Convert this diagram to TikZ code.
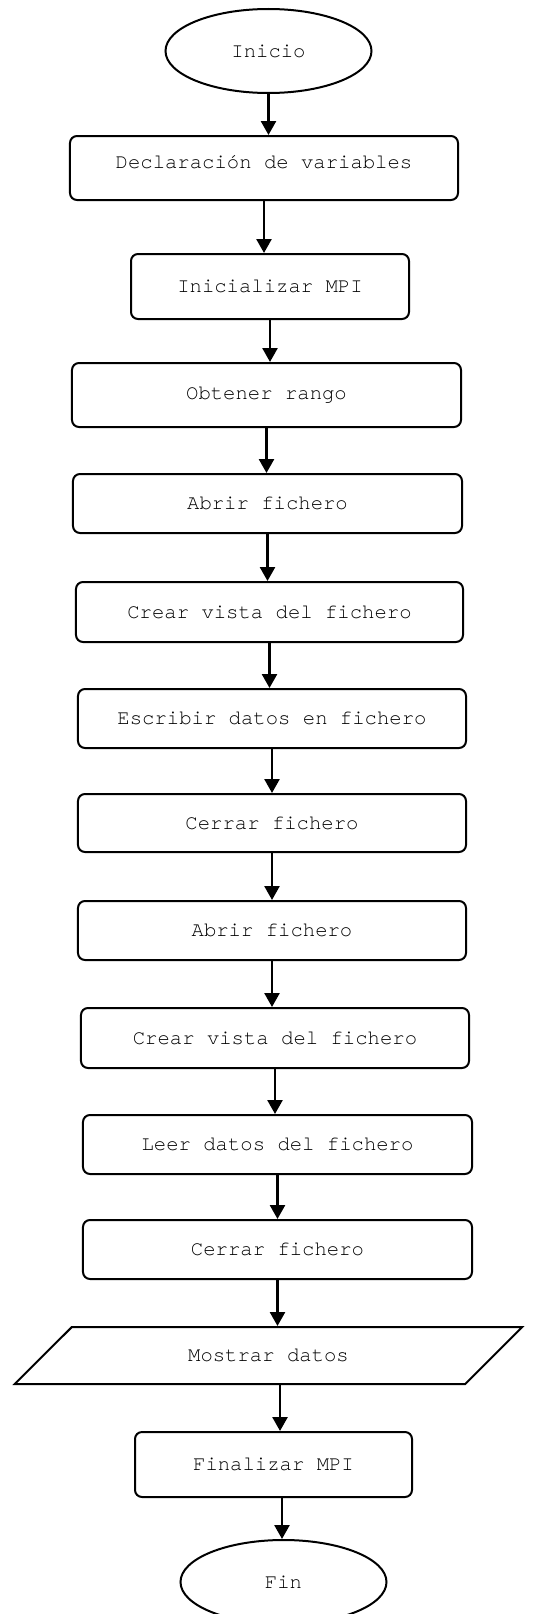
\documentclass[tikz,border=0pt]{standalone}
\usepackage{fontspec}
\setmonofont[Ligatures=NoCommon]{TeX Gyre Cursor}
\usetikzlibrary{arrows.meta,shapes.geometric}

\begin{document}
\begin{tikzpicture}[x=1bp,y=-1bp,
    caja/.style={draw,rounded corners=7bp,line width=2bp,inner sep=0pt},
    terminal/.style={draw,ellipse,line width=2bp,inner sep=0pt,minimum width=206bp,minimum height=84bp},
    flecha/.style={line width=2.6bp,-{Triangle[length=14bp,width=15bp]}}]
\tikzset{every node/.style={font=\fontsize{20.6bp}{24bp}\selectfont\ttfamily}}
\useasboundingbox (0,0) rectangle (539,1614);
% inicio y fin
\node[terminal] (inicio) at (268.5,51) {Inicio};
\node[terminal] (fin) at (283.5,1582) {Fin};
% pasos
\node[caja,minimum width=388bp,minimum height=64bp] (decl) at (264,168) {};
\node at (264,162) {Declaración de variables};
\node[caja,minimum width=278bp,minimum height=65bp] (mpi) at (270,286.5) {Inicializar MPI};
\node[caja,minimum width=389bp,minimum height=64bp] (rango) at (266.5,395) {Obtener rango};
\node[caja,minimum width=389bp,minimum height=59bp] (abrir1) at (267.5,503.5) {Abrir fichero};
\node[caja,minimum width=387bp,minimum height=60bp] (vista1) at (269.5,612) {Crear vista del fichero};
\node[caja,minimum width=388bp,minimum height=59bp] (escribir) at (272,718.5) {Escribir datos en fichero};
\node[caja,minimum width=388bp,minimum height=58bp] (cerrar1) at (272,823) {Cerrar fichero};
\node[caja,minimum width=388bp,minimum height=59bp] (abrir2) at (272,930.5) {Abrir fichero};
\node[caja,minimum width=388bp,minimum height=60bp] (vista2) at (275,1038) {Crear vista del fichero};
\node[caja,minimum width=389bp,minimum height=59bp] (leer) at (277.5,1144.5) {Leer datos del fichero};
\node[caja,minimum width=389bp,minimum height=59bp] (cerrar2) at (277.5,1249.5) {Cerrar fichero};
\node[draw,line width=2bp,trapezium,trapezium left angle=28.7,trapezium right angle=151.3,
      trapezium stretches=true,minimum width=509bp,minimum height=57bp,inner sep=0pt] (datos) at (268.5,1355.5) {Mostrar datos};
\node[caja,minimum width=277bp,minimum height=65bp] (finmpi) at (273.5,1464.5) {Finalizar MPI};
% flechas
\foreach \a/\b in {inicio/decl,decl/mpi,mpi/rango,rango/abrir1,abrir1/vista1,vista1/escribir,
                   escribir/cerrar1,cerrar1/abrir2,abrir2/vista2,vista2/leer,leer/cerrar2,cerrar2/datos}
    \draw[flecha] (\a.south) -- (\a.south |- \b.north);
\coordinate (d1) at ([xshift=11.5bp]datos.south);
\coordinate (d2) at ([xshift=8.5bp]finmpi.south);
\draw[flecha] (d1) -- (d1 |- finmpi.north);
\draw[flecha] (d2) -- (d2 |- fin.north);
\end{tikzpicture}
\end{document}
